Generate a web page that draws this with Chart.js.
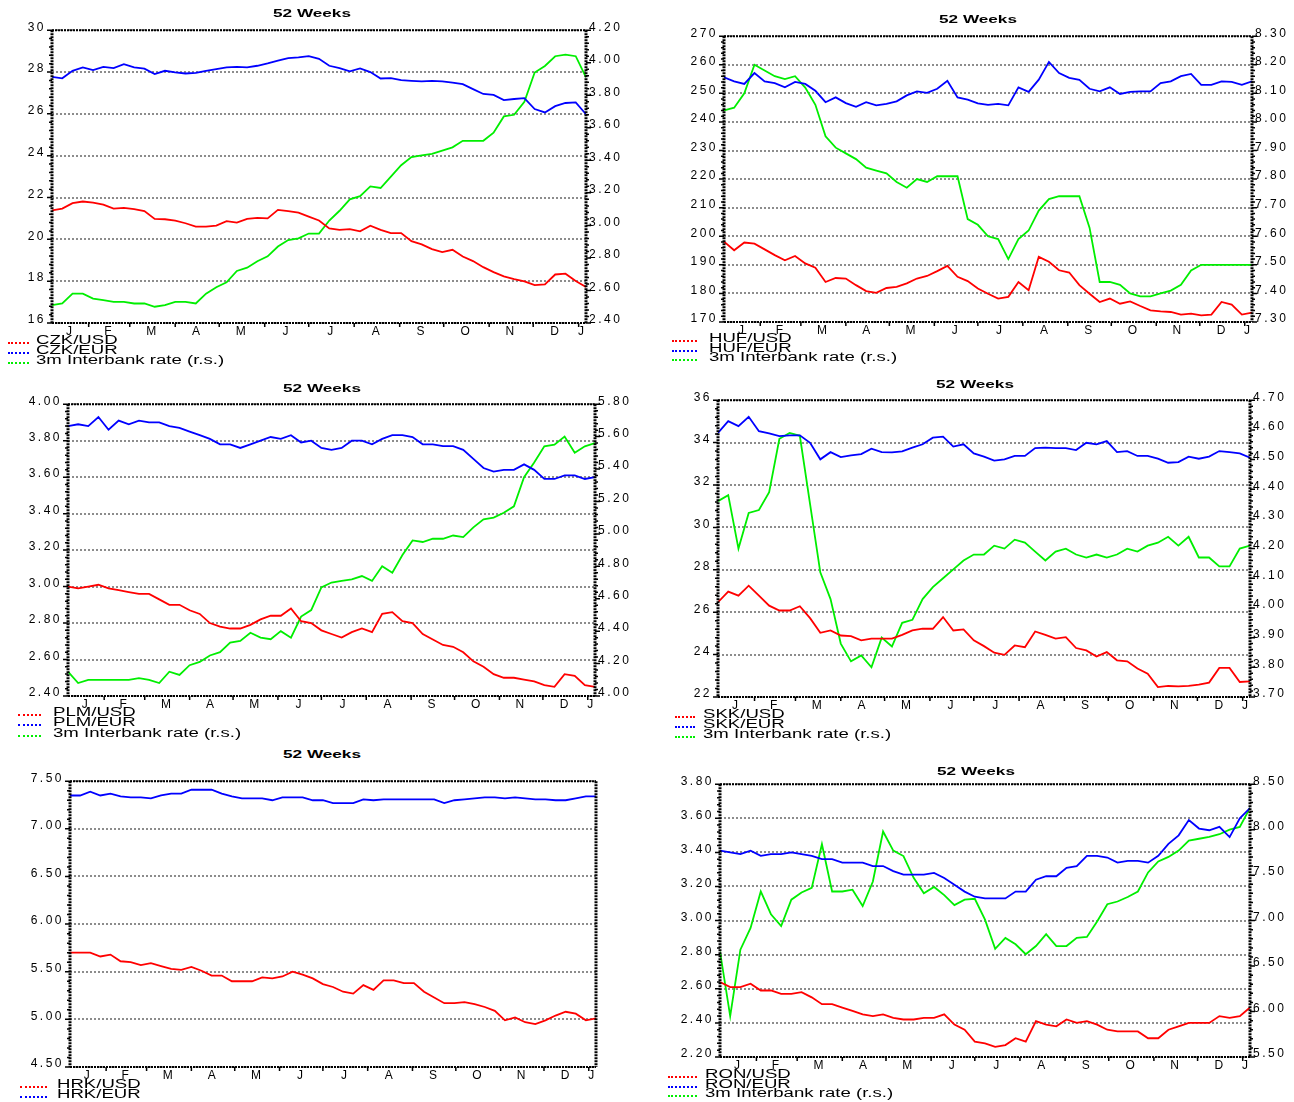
<!DOCTYPE html>
<html>
<head>
<meta charset="utf-8">
<script src="https://cdn.jsdelivr.net/npm/chart.js@4.4.0/dist/chart.umd.min.js"></script>
<style>
  body { margin: 0; background: #fff; width: 1294px; height: 1102px; position: relative; overflow: hidden;
         font-family: 'Liberation Sans', Arial, sans-serif; color: #000; }
  .ttl { position: absolute; font-weight: bold; font-size: 11px; white-space: nowrap;
         transform: translate(-50%, -50%) scaleX(1.56); }
  .leg { position: absolute; font-size: 12px; line-height: 12px; white-space: nowrap;
         transform-origin: 0 50%; transform: translateY(-50%) scaleX(1.55); }
  .smp { position: absolute; height: 0; border-top: 2px dotted; }
</style>
</head>
<body>
<script>
// x axis: days counted from 1 January, one value per week over 52 weeks
const weekDays = Array.from({ length: 53 }, (_, i) => 6 + 7 * i);
const monthStarts = [0, 31, 59, 90, 120, 151, 181, 212, 243, 273, 304, 334, 365, 396];
const monthLetters = ['J', 'F', 'M', 'A', 'M', 'J', 'J', 'A', 'S', 'O', 'N', 'D', 'J'];

const czkUsd = [21.38,21.47,21.73,21.81,21.76,21.66,21.47,21.50,21.44,21.35,20.98,20.96,20.90,20.77,20.61,20.61,20.66,20.87,20.80,20.98,
  21.03,21.00,21.41,21.35,21.28,21.09,20.90,20.52,20.45,20.49,20.38,20.65,20.45,20.30,20.30,19.91,19.76,19.53,19.39,19.50,
  19.18,18.96,18.67,18.43,18.23,18.10,17.99,17.81,17.85,18.32,18.36,18.01,17.72];
const czkEur = [27.77,27.70,28.06,28.22,28.09,28.25,28.19,28.38,28.22,28.16,27.90,28.06,27.98,27.93,27.96,28.06,28.14,28.22,28.25,28.22,
  28.30,28.41,28.54,28.66,28.70,28.76,28.63,28.30,28.19,28.03,28.17,28.00,27.69,27.71,27.61,27.58,27.55,27.58,27.55,27.49,
  27.42,27.18,26.95,26.91,26.66,26.71,26.75,26.23,26.07,26.37,26.52,26.55,25.98];
const czkRate = [2.51,2.52,2.58,2.58,2.55,2.54,2.53,2.53,2.52,2.52,2.50,2.51,2.53,2.53,2.52,2.58,2.62,2.65,2.72,2.74,
  2.78,2.81,2.87,2.91,2.92,2.95,2.95,3.03,3.09,3.16,3.18,3.24,3.23,3.30,3.37,3.42,3.43,3.44,3.46,3.48,
  3.52,3.52,3.52,3.57,3.67,3.68,3.76,3.94,3.98,4.04,4.05,4.04,3.91];

const hufUsd = [198.1,195.1,197.8,197.4,195.4,193.4,191.6,193.1,190.5,189.0,184.0,185.4,185.2,182.9,180.8,180.2,181.9,182.3,183.5,185.2,
  186.1,187.8,189.6,185.8,184.3,181.7,179.9,178.2,178.8,184.0,181.1,192.8,191.1,188.1,187.3,182.9,179.9,177.0,178.2,176.4,
  177.2,175.6,174.1,173.7,173.5,172.6,172.9,172.3,172.6,177.0,176.1,172.6,173.3];
const hufEur = [255.6,254.2,253.3,257.1,254.2,253.6,252.1,254.0,253.3,250.9,246.9,248.6,246.6,245.3,246.9,245.8,246.3,247.2,249.3,250.7,
  250.2,251.6,254.4,248.6,247.8,246.5,246.0,246.3,245.8,252.1,250.5,254.8,261.0,257.1,255.4,254.7,251.6,250.7,252.1,249.8,
  250.5,250.7,250.7,253.6,254.2,256.0,256.8,253.0,253.0,254.2,254.0,253.0,254.2];
const hufRate = [8.04,8.05,8.10,8.20,8.18,8.16,8.15,8.16,8.12,8.06,7.95,7.91,7.89,7.87,7.84,7.83,7.82,7.79,7.77,7.80,
  7.79,7.81,7.81,7.81,7.66,7.64,7.60,7.59,7.52,7.59,7.62,7.69,7.73,7.74,7.74,7.74,7.63,7.44,7.44,7.43,
  7.40,7.39,7.39,7.40,7.41,7.43,7.48,7.50,7.50,7.50,7.50,7.50,7.50];

const plmUsd = [3.00,2.99,3.00,3.01,2.99,2.98,2.97,2.96,2.96,2.93,2.90,2.90,2.87,2.85,2.80,2.78,2.77,2.77,2.79,2.82,
  2.84,2.84,2.88,2.81,2.80,2.76,2.74,2.72,2.75,2.77,2.75,2.85,2.86,2.81,2.80,2.74,2.71,2.68,2.67,2.64,
  2.59,2.56,2.52,2.50,2.50,2.49,2.48,2.46,2.45,2.52,2.51,2.46,2.45];
const plmEur = [3.88,3.89,3.88,3.93,3.86,3.91,3.89,3.91,3.90,3.90,3.88,3.87,3.85,3.83,3.81,3.78,3.78,3.76,3.78,3.80,
  3.82,3.81,3.83,3.79,3.80,3.76,3.75,3.76,3.80,3.80,3.78,3.81,3.83,3.83,3.82,3.78,3.78,3.77,3.77,3.75,
  3.70,3.65,3.63,3.64,3.64,3.67,3.64,3.59,3.59,3.61,3.61,3.59,3.60];
const plmRate = [4.15,4.08,4.10,4.10,4.10,4.10,4.10,4.11,4.10,4.08,4.15,4.13,4.19,4.21,4.25,4.27,4.33,4.34,4.39,4.36,
  4.35,4.40,4.36,4.49,4.53,4.67,4.70,4.71,4.72,4.74,4.71,4.80,4.76,4.87,4.96,4.95,4.97,4.97,4.99,4.98,
  5.04,5.09,5.10,5.13,5.17,5.35,5.44,5.54,5.55,5.60,5.50,5.54,5.56];

const skkUsd = [26.47,26.97,26.78,27.25,26.78,26.31,26.08,26.08,26.28,25.72,25.03,25.14,24.90,24.87,24.67,24.75,24.75,24.75,24.93,25.14,
  25.22,25.22,25.77,25.14,25.19,24.67,24.40,24.09,23.99,24.43,24.35,25.09,24.93,24.75,24.82,24.31,24.20,23.91,24.12,23.73,
  23.68,23.34,23.10,22.47,22.52,22.50,22.52,22.58,22.68,23.37,23.37,22.71,22.74];
const skkEur = [34.46,35.01,34.78,35.22,34.54,34.43,34.31,34.34,34.34,33.99,33.21,33.55,33.32,33.40,33.46,33.71,33.55,33.54,33.59,33.76,
  33.92,34.23,34.28,33.81,33.92,33.49,33.34,33.15,33.21,33.37,33.37,33.74,33.76,33.74,33.74,33.65,33.99,33.92,34.07,33.55,
  33.60,33.37,33.37,33.24,33.05,33.08,33.34,33.24,33.34,33.60,33.55,33.49,33.29];
const skkRate = [4.36,4.38,4.20,4.32,4.33,4.39,4.57,4.59,4.58,4.35,4.12,4.03,3.88,3.82,3.84,3.80,3.90,3.87,3.95,3.96,
  4.03,4.07,4.10,4.13,4.16,4.18,4.18,4.21,4.20,4.23,4.22,4.19,4.16,4.19,4.20,4.18,4.17,4.18,4.17,4.18,
  4.20,4.19,4.21,4.22,4.24,4.21,4.24,4.17,4.17,4.14,4.14,4.20,4.21];

const hrkUsd = [5.70,5.70,5.70,5.66,5.68,5.61,5.60,5.57,5.59,5.56,5.53,5.52,5.55,5.51,5.46,5.46,5.40,5.40,5.40,5.44,
  5.43,5.45,5.50,5.47,5.43,5.37,5.34,5.29,5.27,5.36,5.31,5.41,5.41,5.38,5.38,5.29,5.23,5.17,5.17,5.18,
  5.16,5.13,5.09,4.99,5.02,4.97,4.95,4.99,5.04,5.08,5.06,4.99,5.01];
const hrkEur = [7.35,7.35,7.39,7.35,7.37,7.34,7.33,7.33,7.32,7.35,7.37,7.37,7.41,7.41,7.41,7.37,7.34,7.32,7.32,7.32,
  7.30,7.33,7.33,7.33,7.30,7.30,7.27,7.27,7.27,7.31,7.30,7.31,7.31,7.31,7.31,7.31,7.31,7.27,7.30,7.31,
  7.32,7.33,7.33,7.32,7.33,7.32,7.31,7.31,7.30,7.30,7.32,7.34,7.34];

const ronUsd = [2.64,2.61,2.61,2.63,2.59,2.59,2.57,2.57,2.58,2.55,2.51,2.51,2.49,2.47,2.45,2.44,2.45,2.43,2.42,2.42,
  2.43,2.43,2.45,2.39,2.36,2.29,2.28,2.26,2.27,2.31,2.29,2.41,2.39,2.38,2.42,2.40,2.41,2.39,2.36,2.35,
  2.35,2.35,2.31,2.31,2.36,2.38,2.40,2.40,2.40,2.44,2.43,2.44,2.49];
const ronEur = [3.41,3.40,3.39,3.41,3.38,3.39,3.39,3.40,3.39,3.38,3.36,3.36,3.34,3.34,3.34,3.32,3.32,3.29,3.27,3.27,
  3.27,3.28,3.25,3.21,3.17,3.14,3.13,3.13,3.13,3.17,3.17,3.24,3.26,3.26,3.31,3.32,3.38,3.38,3.37,3.34,
  3.35,3.35,3.34,3.38,3.45,3.50,3.59,3.54,3.53,3.55,3.49,3.60,3.66];
const ronRate = [6.66,5.95,6.68,6.92,7.32,7.07,6.94,7.23,7.31,7.36,7.84,7.32,7.32,7.34,7.16,7.43,7.98,7.77,7.71,7.47,
  7.30,7.37,7.28,7.17,7.23,7.24,7.01,6.69,6.81,6.74,6.63,6.72,6.85,6.72,6.72,6.81,6.82,6.99,7.18,7.21,
  7.26,7.32,7.53,7.65,7.70,7.77,7.88,7.90,7.92,7.95,8.00,8.03,8.24];

const rateLabel = '3m Interbank rate (r.s.)';
const colors = ['#ff0000', '#0000ff', '#00ee00'];
const X_MIN = 6, X_MAX = 370;

// box = plot area [left, top, right, bottom]; left/right = [min, max, step, decimals]
const panels = [
  { box: [52, 29, 586, 323], left: [16, 30, 2, 0], right: [2.4, 4.2, 0.2, 2], title: [312, 13],
    leg: [8, 29, 36, [340, 350, 360]], names: ['CZK/USD', 'CZK/EUR', rateLabel], series: [czkUsd, czkEur, czkRate] },
  { box: [724, 35, 1252, 322], left: [170, 270, 10, 0], right: [7.3, 8.3, 0.1, 2], title: [978, 19],
    leg: [672, 697, 709, [338, 348, 357]], names: ['HUF/USD', 'HUF/EUR', rateLabel], series: [hufUsd, hufEur, hufRate] },
  { box: [68, 403, 595, 696], left: [2.4, 4.0, 0.2, 2], right: [4.0, 5.8, 0.2, 2], title: [322, 388],
    leg: [18, 41, 53, [712, 722, 733]], names: ['PLM/USD', 'PLM/EUR', rateLabel], series: [plmUsd, plmEur, plmRate] },
  { box: [718, 399, 1250, 697], left: [22, 36, 2, 0], right: [3.7, 4.7, 0.1, 2], title: [975, 384],
    leg: [675, 695, 703, [714, 724, 734]], names: ['SKK/USD', 'SKK/EUR', rateLabel], series: [skkUsd, skkEur, skkRate] },
  { box: [70, 780, 596, 1067], left: [4.5, 7.5, 0.5, 2], right: null, title: [322, 754],
    leg: [20, 47, 57, [1084, 1094]], names: ['HRK/USD', 'HRK/EUR'], series: [hrkUsd, hrkEur] },
  { box: [720, 783, 1250, 1057], left: [2.2, 3.8, 0.2, 2], right: [5.5, 8.5, 0.5, 2], title: [976, 771],
    leg: [668, 697, 705, [1074, 1084, 1093]], names: ['RON/USD', 'RON/EUR', rateLabel], series: [ronUsd, ronEur, ronRate] }
];

const monthMids = monthLetters.map((_, k) =>
  (Math.max(monthStarts[k], X_MIN) + Math.min(monthStarts[k + 1], X_MAX)) / 2);

const tickFont = { family: "'Liberation Sans', Arial, sans-serif", size: 12 };
const AX = 60, TOP = 12, XH = 22;

// dotted black frame, minor ticks on the value axes, month boundary ticks
const framePlugin = {
  id: 'frame',
  beforeDraw(chart) { chart.ctx.letterSpacing = '2.5px'; },
  afterDatasetsDraw(chart) {
    const { ctx, chartArea: a, scales } = chart;
    ctx.save();
    ctx.strokeStyle = '#000';
    ctx.setLineDash([2, 1]);
    ctx.lineWidth = 2;
    ctx.beginPath();
    ctx.moveTo(a.left, a.top); ctx.lineTo(a.right, a.top);
    ctx.moveTo(a.left, a.bottom); ctx.lineTo(a.right, a.bottom);
    ctx.stroke();
    ctx.lineWidth = 3;
    ctx.beginPath();
    ctx.moveTo(a.left, a.top); ctx.lineTo(a.left, a.bottom);
    ctx.moveTo(a.right, a.top); ctx.lineTo(a.right, a.bottom);
    ctx.stroke();

    ctx.setLineDash([]);
    ctx.lineWidth = 1.5;
    ctx.beginPath();
    ['y', 'y2'].forEach(id => {
      const s = scales[id];
      if (!s || !s.options.ticks.display) return;
      const step = s.options.ticks.stepSize / 5;
      const n = Math.round((s.max - s.min) / step);
      for (let k = 0; k <= n; k++) {
        const py = s.getPixelForValue(s.min + k * step);
        const len = k % 5 === 0 ? 5 : 3;
        if (id === 'y') { ctx.moveTo(a.left - len, py); ctx.lineTo(a.left, py); }
        else { ctx.moveTo(a.right, py); ctx.lineTo(a.right + len, py); }
      }
    });
    const x = scales.x;
    monthStarts.forEach(d => {
      if (d <= x.min || d >= x.max) return;
      const px = x.getPixelForValue(d);
      ctx.moveTo(px, a.bottom); ctx.lineTo(px, a.bottom + 4);
    });
    ctx.stroke();
    ctx.restore();
  }
};

function addText(cls, x, y, txt) {
  const d = document.createElement('div');
  d.className = cls;
  d.style.left = x + 'px';
  d.style.top = y + 'px';
  d.textContent = txt;
  document.body.appendChild(d);
}

panels.forEach(p => {
  const [l, t, r, b] = p.box;
  const W = r - l + 2 * AX, H = b - t + TOP + XH;
  const cv = document.createElement('canvas');
  cv.width = W; cv.height = H;
  cv.style.cssText = `position:absolute;left:${l - AX}px;top:${t - TOP}px;width:${W}px;height:${H}px`;
  document.body.appendChild(cv);

  const [lMin, lMax, lStep, lDec] = p.left;
  const right = p.right || [0, 1, 1, 0];

  new Chart(cv, {
    type: 'line',
    data: {
      labels: weekDays,
      datasets: p.series.map((s, i) => ({
        label: p.names[i],
        data: s,
        borderColor: colors[i],
        borderWidth: 1.8,
        pointRadius: 0,
        tension: 0,
        yAxisID: i === 2 ? 'y2' : 'y'
      }))
    },
    options: {
      responsive: false,
      animation: false,
      events: [],
      layout: { autoPadding: false, padding: { top: TOP, left: 0, right: 0, bottom: 0 } },
      plugins: { legend: { display: false }, title: { display: false }, tooltip: { enabled: false } },
      scales: {
        x: {
          type: 'linear', min: X_MIN, max: X_MAX,
          grid: { display: false, drawTicks: false }, border: { display: false },
          afterBuildTicks: s => { s.ticks = monthMids.map(v => ({ value: v })); },
          afterFit: s => { s.height = XH; },
          ticks: { autoSkip: false, maxRotation: 0, padding: 1, color: '#000', font: tickFont,
                   callback: (v, i) => monthLetters[i] }
        },
        y: {
          position: 'left', min: lMin, max: lMax,
          afterFit: s => { s.width = AX; },
          grid: { color: '#8c8c8c', lineWidth: 2, drawTicks: false },
          border: { display: false, dash: [2, 2] },
          ticks: { stepSize: lStep, padding: 6, labelOffset: -3, color: '#000', font: tickFont,
                   callback: v => v.toFixed(lDec) }
        },
        y2: {
          position: 'right', min: right[0], max: right[1],
          afterFit: s => { s.width = AX; },
          grid: { drawOnChartArea: false, drawTicks: false },
          border: { display: false },
          ticks: { display: !!p.right, stepSize: right[2], padding: 3, labelOffset: -3, color: '#000',
                   font: tickFont, callback: v => v.toFixed(right[3]) }
        }
      }
    },
    plugins: [framePlugin]
  });

  addText('ttl', p.title[0], p.title[1], '52 Weeks');
  const [sx0, sx1, tx, ys] = p.leg;
  p.names.forEach((name, i) => {
    const smp = document.createElement('div');
    smp.className = 'smp';
    smp.style.cssText += `left:${sx0}px;top:${ys[i] + 2}px;width:${sx1 - sx0}px;border-color:${colors[i]}`;
    document.body.appendChild(smp);
    addText('leg', tx, ys[i], name);
  });
});
</script>
</body>
</html>
